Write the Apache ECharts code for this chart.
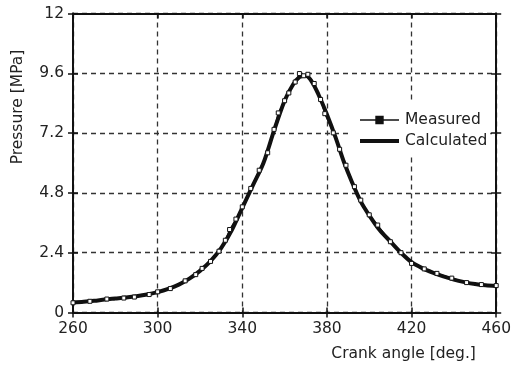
<!DOCTYPE html>
<html><head><meta charset="utf-8">
<script src="https://cdn.jsdelivr.net/npm/echarts@6/dist/echarts.min.js"></script>
<style>html,body{margin:0;padding:0;background:#fff}#c{width:514px;height:367px}</style>
</head><body><div id="c"></div>
<script>
const xTicks = [260, 300, 340, 380, 420, 460];
const yTicks = [0, 2.4, 4.8, 7.2, 9.6, 12];

const calcAngle = [260,265,270,275,280,285,290,295,300,305,310,315,320,325,330,335,340,345,350,355,360,364,367,370,373,376,380,384,388,392,396,400,405,410,415,420,425,430,435,440,445,450,455,460];
const calcP =     [0.40,0.43,0.47,0.52,0.56,0.60,0.65,0.72,0.82,0.95,1.12,1.36,1.67,2.06,2.58,3.30,4.20,5.10,6.00,7.30,8.50,9.15,9.45,9.50,9.25,8.75,7.95,7.05,6.05,5.20,4.45,3.90,3.30,2.85,2.40,2.02,1.78,1.60,1.45,1.32,1.22,1.14,1.09,1.06];

const measAngle = [260,268,276,284,289,296,300,306,313,318,321,325,329,332,334,337,340,344,348,352,355,357,360,362,365,367,369,371,374,377,379,383,386,389,393,396,400,404,410,415,420,426,432,439,446,453,460];
const measP =     [0.39,0.45,0.54,0.58,0.62,0.72,0.83,0.96,1.27,1.52,1.77,2.05,2.46,2.90,3.33,3.75,4.24,4.98,5.71,6.41,7.35,8.01,8.50,8.81,9.25,9.59,9.50,9.56,9.19,8.55,7.98,7.21,6.55,5.91,5.05,4.51,3.92,3.51,2.84,2.40,1.97,1.75,1.57,1.38,1.20,1.12,1.08];

const calc = calcAngle.map((a,i)=>[a,calcP[i]]);
const meas = measAngle.map((a,i)=>[a,measP[i]]);

const font = 'DejaVu Sans, sans-serif';
const txt = '#222';
const chart = echarts.init(document.getElementById('c'), null, {renderer:'canvas'});
const xBase = {type:'value', min:260, max:460, interval:40};
const yBase = {type:'value', min:0, max:12, interval:2.4};
const axLine = {show:true, onZero:false, lineStyle:{color:'#111', width:1.8}};
const tick = (inside)=>({show:true, inside:inside, length:5, lineStyle:{color:'#111', width:1.5}});
chart.setOption({
  animation:false,
  backgroundColor:'#fff',
  grid:{left:73, right:9, top:13.5, bottom:54.5, containLabel:false},
  legend:{
    orient:'vertical', left:348, top:100, itemWidth:39, itemHeight:8, itemGap:5,
    padding:[12,3,5,10], backgroundColor:'#fff', z:10,
    textStyle:{fontFamily:font, fontSize:15.5, color:txt, padding:[0,0,0,1]},
    data:[
      {name:'Measured', itemStyle:{color:'#111', borderColor:'#111'}, lineStyle:{width:1.5, color:'#111'}},
      {name:'Calculated', itemStyle:{opacity:0}, lineStyle:{width:4, color:'#111'}}
    ]
  },
  xAxis:[
    Object.assign({}, xBase, {position:'bottom',
      name:'Crank angle [deg.]', nameLocation:'middle', nameGap:33,
      nameTextStyle:{fontFamily:font, fontSize:15.5, color:txt, padding:[0,0,0,238]},
      axisLine:axLine, axisTick:tick(false),
      axisLabel:{fontFamily:font, fontSize:15.5, color:txt, margin:8},
      splitLine:{show:true, lineStyle:{color:'#333', type:[5,4], width:1.3}}}),
    Object.assign({}, xBase, {position:'bottom', axisLine:axLine, axisTick:tick(true),
      axisLabel:{show:false}, splitLine:{show:false}}),
    Object.assign({}, xBase, {position:'top', axisLine:axLine, axisTick:tick(true),
      axisLabel:{show:false}, splitLine:{show:false}})
  ],
  yAxis:[
    Object.assign({}, yBase, {position:'left',
      name:'Pressure [MPa]', nameLocation:'middle', nameGap:47, nameRotate:90,
      nameTextStyle:{fontFamily:font, fontSize:15.5, color:txt, padding:[0,0,0,112]},
      axisLine:axLine, axisTick:tick(false),
      axisLabel:{fontFamily:font, fontSize:15.5, color:txt, margin:9, formatter:v=>String(+v.toFixed(1))},
      splitLine:{show:true, lineStyle:{color:'#333', type:[5,4], width:1.3}}}),
    Object.assign({}, yBase, {position:'left', axisLine:axLine, axisTick:tick(true),
      axisLabel:{show:false}, splitLine:{show:false}}),
    Object.assign({}, yBase, {position:'right', axisLine:axLine, axisTick:tick(false),
      axisLabel:{show:false}, splitLine:{show:false}}),
    Object.assign({}, yBase, {position:'right', axisLine:axLine, axisTick:tick(true),
      axisLabel:{show:false}, splitLine:{show:false}})
  ],
  series:[
    {name:'Calculated', type:'line', data:calc, smooth:0.3, showSymbol:false, symbol:'none',
     lineStyle:{color:'#111', width:4}, itemStyle:{color:'#111'}, z:3},
    {name:'Measured', type:'line', data:meas, symbol:'rect', symbolSize:4, showSymbol:true,
     lineStyle:{color:'#111', width:1.2}, itemStyle:{color:'#fff', borderColor:'#111', borderWidth:1}, z:4}
  ]
});
</script></body></html>
